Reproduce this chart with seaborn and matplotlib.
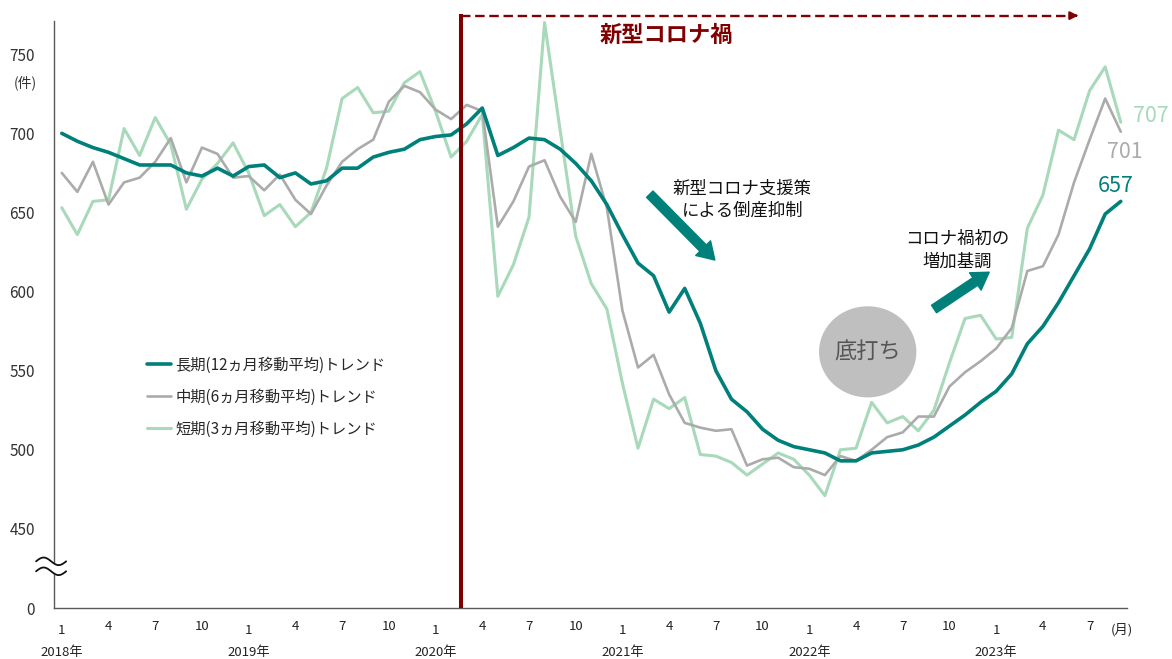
import matplotlib
matplotlib.use("Agg")
import matplotlib.pyplot as plt
import matplotlib.transforms as mtransforms
from matplotlib.patches import Ellipse, FancyArrowPatch
import numpy as np
import pandas as pd
import seaborn as sns

# monthly counts, 2018/1 .. 2023/9
years = ["2018年", "2019年", "2020年", "2021年", "2022年", "2023年"]
month_labels = ["1", "4", "7", "10"]

long_trend = [700, 695, 691, 688, 684, 680, 680, 680, 675, 673,
              678, 673, 679, 680, 672, 675, 668, 670, 678, 678,
              685, 688, 690, 696, 698, 699, 706, 716, 686, 691,
              697, 696, 690, 681, 670, 655, 636, 618, 610, 587,
              602, 580, 550, 532, 524, 513, 506, 502, 500, 498,
              493, 493, 498, 499, 500, 503, 508, 515, 522, 530,
              537, 548, 567, 578, 593, 610, 627, 649, 657]
mid_trend = [675, 663, 682, 655, 669, 672, 682, 697, 669, 691,
             687, 672, 673, 664, 674, 658, 649, 667, 682, 690,
             696, 720, 730, 726, 715, 709, 718, 714, 641, 657,
             679, 683, 660, 644, 687, 653, 588, 552, 560, 535,
             517, 514, 512, 513, 490, 494, 495, 489, 488, 484,
             496, 493, 500, 508, 511, 521, 521, 540, 549, 556,
             564, 577, 613, 616, 636, 669, 696, 722, 701]
short_trend = [653, 636, 657, 658, 703, 686, 710, 693, 652, 671,
               681, 694, 675, 648, 655, 641, 650, 678, 722, 729,
               713, 714, 732, 739, 714, 685, 695, 712, 597, 617,
               647, 770, 702, 635, 605, 589, 542, 501, 532, 526,
               533, 497, 496, 492, 484, 491, 498, 494, 484, 471,
               500, 501, 530, 517, 521, 512, 525, 555, 583, 585,
               570, 571, 640, 661, 702, 696, 727, 742, 707]

series_names = ["長期(12ヵ月移動平均)トレンド",
                "中期(6ヵ月移動平均)トレンド",
                "短期(3ヵ月移動平均)トレンド"]
series_colors = ["#00807A", "#ABABAB", "#A8D9BA"]
series_widths = [2.6, 1.9, 2.2]

n = len(long_trend)
df = pd.DataFrame({
    "idx": np.tile(np.arange(n), 3),
    "value": long_trend + mid_trend + short_trend,
    "series": np.repeat(series_names, n),
})

sns.set_style("white")
plt.rcParams["font.family"] = ["Noto Sans CJK JP", "DejaVu Sans"]

fig = plt.figure(figsize=(11.72, 6.59), dpi=100)
ax = fig.add_axes([54 / 1172, 51 / 659, 1073 / 1172, 587 / 659])

# draw short first so the long trend sits on top
for name, col, lw in reversed(list(zip(series_names, series_colors, series_widths))):
    sns.lineplot(data=df[df["series"] == name], x="idx", y="value",
                 color=col, linewidth=lw, label=name, ax=ax, zorder=3)

ax.set_xlim(-0.5, 68.4)
ax.set_ylim(400, 771)
ax.set_xlabel("")
ax.set_ylabel("")

for side in ["top", "right"]:
    ax.spines[side].set_visible(False)
for side in ["left", "bottom"]:
    ax.spines[side].set_color("#595959")
    ax.spines[side].set_linewidth(1.0)

# y axis with break: 400 stands for 0
ax.set_yticks([400, 450, 500, 550, 600, 650, 700, 750])
ax.set_yticklabels(["0", "450", "500", "550", "600", "650", "700", "750"])
ax.tick_params(axis="y", direction="out", length=3.6, width=1.0,
               color="#595959", pad=10, labelsize=11, labelcolor="#333333")

# x axis: month labels, "1" sits a bit lower
major = [i for i in range(n) if i % 12 != 0 and i % 3 == 0]
minor = [i for i in range(n) if i % 12 == 0]
ax.set_xticks(major)
ax.set_xticklabels([month_labels[(i % 12) // 3] for i in major])
ax.set_xticks(minor, minor=True)
ax.set_xticklabels(["1"] * len(minor), minor=True)
ax.tick_params(axis="x", which="major", length=0, pad=9, labelsize=9.5, labelcolor="#222222")
ax.tick_params(axis="x", which="minor", length=0, pad=11.5, labelsize=9.5, labelcolor="#222222")

trans = mtransforms.blended_transform_factory(ax.transData, ax.transAxes)
for k, yl in enumerate(years):
    ax.text(k * 12, -0.075, yl, transform=trans, ha="center", va="center",
            fontsize=9.5, color="#222222")
ax.text(68.05, -0.037, "(月)", transform=trans, ha="center", va="center",
        fontsize=9.5, color="#222222")
ax.text(-2.36, 732, "(件)", ha="center", va="center", fontsize=10,
        color="#333333", clip_on=False)

# axis break mark
t = np.linspace(0, 1, 60)
bx = -1.65 + 1.93 * t
wave = 2.4 * np.sin(2 * np.pi * t)
ax.fill_between(bx, 423.2 + wave, 429.5 + wave, color="white", zorder=6, clip_on=False)
ax.plot(bx, 429.5 + wave, color="#111111", lw=1.3, zorder=7, clip_on=False)
ax.plot(bx, 423.2 + wave, color="#111111", lw=1.3, zorder=7, clip_on=False)

# covid period marker
covid_x = 25.63
ax.plot([covid_x, covid_x], [400, 775.7], color="#7F0000", lw=2.9, zorder=5,
        clip_on=False, solid_capstyle="butt")
ax.plot([covid_x, 65.0], [774.4, 774.4], color="#7F0000", lw=1.7,
        dashes=(4, 2), zorder=5, clip_on=False)
ax.annotate("", xy=(65.45, 774.4), xytext=(64.9, 774.4),
            arrowprops=dict(arrowstyle="-|>", color="#7F0000", lw=1.5, mutation_scale=12),
            annotation_clip=False)
ax.text(38.8, 761.8, "新型コロナ禍", ha="center", va="center", fontsize=16,
        fontweight="bold", color="#7F0000")

# annotations
arr1 = FancyArrowPatch((37.63, 662.8), (42.06, 618.7),
                       arrowstyle="simple,head_length=12,head_width=15,tail_width=6.5",
                       mutation_scale=1, color="#00807A", zorder=4)
ax.add_patch(arr1)
ax.text(43.7, 658, "新型コロナ支援策\nによる倒産抑制", ha="center", va="center",
        fontsize=12.5, linespacing=1.3, color="#111111")

arr2 = FancyArrowPatch((55.86, 588), (59.7, 613.2),
                       arrowstyle="simple,head_length=12,head_width=15,tail_width=6.5",
                       mutation_scale=1, color="#00807A", zorder=4)
ax.add_patch(arr2)
ax.text(57.5, 626, "コロナ禍初の\n増加基調", ha="center", va="center",
        fontsize=12.5, linespacing=1.3, color="#111111")

ax.add_patch(Ellipse((51.75, 561.9), 6.16, 56.7, color="#BFBFBF", zorder=2))
ax.text(51.75, 561.9, "底打ち", ha="center", va="center", fontsize=16,
        color="#555555", zorder=3)

# end values
ax.text(68.76, 710.7, f"{short_trend[-1]}", ha="left", va="center", fontsize=15.5,
        color=series_colors[2], clip_on=False)
ax.text(68.25, 688, f"{mid_trend[-1]}", ha="center", va="center", fontsize=15.5,
        color=series_colors[1], clip_on=False)
ax.text(67.7, 666.4, f"{long_trend[-1]}", ha="center", va="center", fontsize=15.5,
        color=series_colors[0], clip_on=False)

handles, labels = ax.get_legend_handles_labels()
ax.legend(handles[::-1], labels[::-1], loc="center left",
          bbox_to_anchor=(0.0867, 0.359), frameon=False, fontsize=11,
          handlelength=1.6, handletextpad=0.25, labelspacing=0.98,
          borderpad=0, borderaxespad=0)

fig.savefig("out.png", dpi=100)
